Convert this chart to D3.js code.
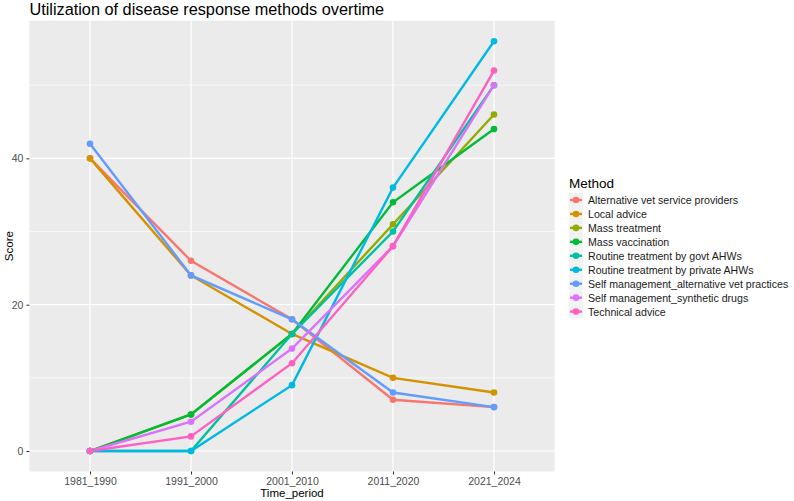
<!DOCTYPE html>
<html>
<head>
<meta charset="utf-8">
<script src="https://cdn.jsdelivr.net/npm/d3@7"></script>
<style>
  body { margin: 0; background: #fff; }
  svg { display: block; font-family: "Liberation Sans", Arial, sans-serif; }
</style>
</head>
<body>
<svg id="chart" width="794" height="501"></svg>
<script>
const periods = ["1981_1990", "1991_2000", "2001_2010", "2011_2020", "2021_2024"];
const methods = [
  "Alternative vet service providers",
  "Local advice",
  "Mass treatment",
  "Mass vaccination",
  "Routine treatment by govt AHWs",
  "Routine treatment by private AHWs",
  "Self management_alternative vet practices",
  "Self management_synthetic drugs",
  "Technical advice"
];
const altVetProviders = [40, 26, 18, 7, 6];
const localAdvice = [40, 24, 16, 10, 8];
const massTreatment = [0, 5, 16, 31, 46];
const massVaccination = [0, 5, 16, 34, 44];
const routineGovt = [0, 0, 16, 30, 50];
const routinePrivate = [0, 0, 9, 36, 56];
const selfMgmtAlt = [42, 24, 18, 8, 6];
const selfMgmtSynthetic = [0, 4, 14, 28, 50];
const technicalAdvice = [0, 2, 12, 28, 52];
const yTicks = [0, 20, 40];
const yMinor = [10, 30, 50];

const seriesValues = [altVetProviders, localAdvice, massTreatment, massVaccination,
  routineGovt, routinePrivate, selfMgmtAlt, selfMgmtSynthetic, technicalAdvice];
const colors = ["#F8766D", "#D39200", "#93AA00", "#00BA38", "#00C19F",
  "#00B9E3", "#619CFF", "#DB72FB", "#FF61C3"];

const series = methods.map((m, i) => ({
  name: m,
  color: colors[i],
  values: periods.map((p, j) => ({ period: p, value: seriesValues[i][j] }))
}));

const panel = { left: 29.4, right: 554.6, top: 20.8, bottom: 471.5 };
const svg = d3.select("#chart");

const x = d3.scalePoint()
  .domain(periods)
  .range([panel.left, panel.right])
  .padding(0.6);

const maxV = d3.max(seriesValues.flat());
const minV = d3.min(seriesValues.flat());
const pad = (maxV - minV) * 0.05;
const y = d3.scaleLinear()
  .domain([minV - pad, maxV + pad])
  .range([panel.bottom, panel.top]);

// panel background + grid
svg.append("rect")
  .attr("x", panel.left).attr("y", panel.top)
  .attr("width", panel.right - panel.left)
  .attr("height", panel.bottom - panel.top)
  .attr("fill", "#EBEBEB");

svg.append("g").selectAll("line")
  .data(yMinor)
  .join("line")
  .attr("x1", panel.left).attr("x2", panel.right)
  .attr("y1", d => y(d)).attr("y2", d => y(d))
  .attr("stroke", "#fff").attr("stroke-width", 0.6);

svg.append("g").selectAll("line")
  .data(yTicks)
  .join("line")
  .attr("x1", panel.left).attr("x2", panel.right)
  .attr("y1", d => y(d)).attr("y2", d => y(d))
  .attr("stroke", "#fff").attr("stroke-width", 1.2);

svg.append("g").selectAll("line")
  .data(periods)
  .join("line")
  .attr("x1", d => x(d)).attr("x2", d => x(d))
  .attr("y1", panel.top).attr("y2", panel.bottom)
  .attr("stroke", "#fff").attr("stroke-width", 1.2);

// axes
const xAxis = svg.append("g")
  .attr("transform", `translate(0,${panel.bottom})`)
  .call(d3.axisBottom(x).tickSize(3).tickPadding(3));
const yAxis = svg.append("g")
  .attr("transform", `translate(${panel.left},0)`)
  .call(d3.axisLeft(y).tickValues(yTicks).tickSize(3).tickPadding(3));
[xAxis, yAxis].forEach(ax => {
  ax.select(".domain").remove();
  ax.selectAll(".tick line").attr("stroke", "#333").attr("stroke-width", 1);
  ax.selectAll(".tick text")
    .attr("fill", "#4D4D4D")
    .style("font-size", "10.5px")
    .style("font-family", "Liberation Sans, Arial, sans-serif");
});

svg.append("text")
  .attr("x", (panel.left + panel.right) / 2).attr("y", 497)
  .attr("text-anchor", "middle")
  .style("font-size", "11.5px")
  .text("Time_period");

svg.append("text")
  .attr("transform", `translate(13,${(panel.top + panel.bottom) / 2}) rotate(-90)`)
  .attr("text-anchor", "middle")
  .style("font-size", "11.5px")
  .text("Score");

svg.append("text")
  .attr("x", panel.left).attr("y", 15)
  .style("font-size", "16.3px")
  .text("Utilization of disease response methods overtime");

// lines and points
const line = d3.line()
  .x(d => x(d.period))
  .y(d => y(d.value));

svg.append("g").selectAll("path")
  .data(series)
  .join("path")
  .attr("fill", "none")
  .attr("stroke", d => d.color)
  .attr("stroke-width", 2.4)
  .attr("d", d => line(d.values));

svg.append("g").selectAll("g")
  .data(series)
  .join("g")
  .attr("fill", d => d.color)
  .selectAll("circle")
  .data(d => d.values)
  .join("circle")
  .attr("cx", d => x(d.period))
  .attr("cy", d => y(d.value))
  .attr("r", 3.3);

// legend
const legend = svg.append("g").attr("transform", "translate(569,0)");
legend.append("text")
  .attr("x", 0).attr("y", 188)
  .style("font-size", "13.5px")
  .text("Method");

const item = legend.selectAll("g.item")
  .data(series)
  .join("g")
  .attr("class", "item")
  .attr("transform", (d, i) => `translate(0,${200 + i * 13.95})`);
item.append("rect")
  .attr("x", 0).attr("y", -7)
  .attr("width", 14).attr("height", 14)
  .attr("fill", "#F2F2F2");
item.append("line")
  .attr("x1", 1).attr("x2", 13)
  .attr("stroke", d => d.color).attr("stroke-width", 2.4);
item.append("circle")
  .attr("cx", 7).attr("r", 3.3)
  .attr("fill", d => d.color);
item.append("text")
  .attr("x", 19).attr("y", 4)
  .style("font-size", "10.6px")
  .attr("fill", "#1A1A1A")
  .text(d => d.name);
</script>
</body>
</html>
